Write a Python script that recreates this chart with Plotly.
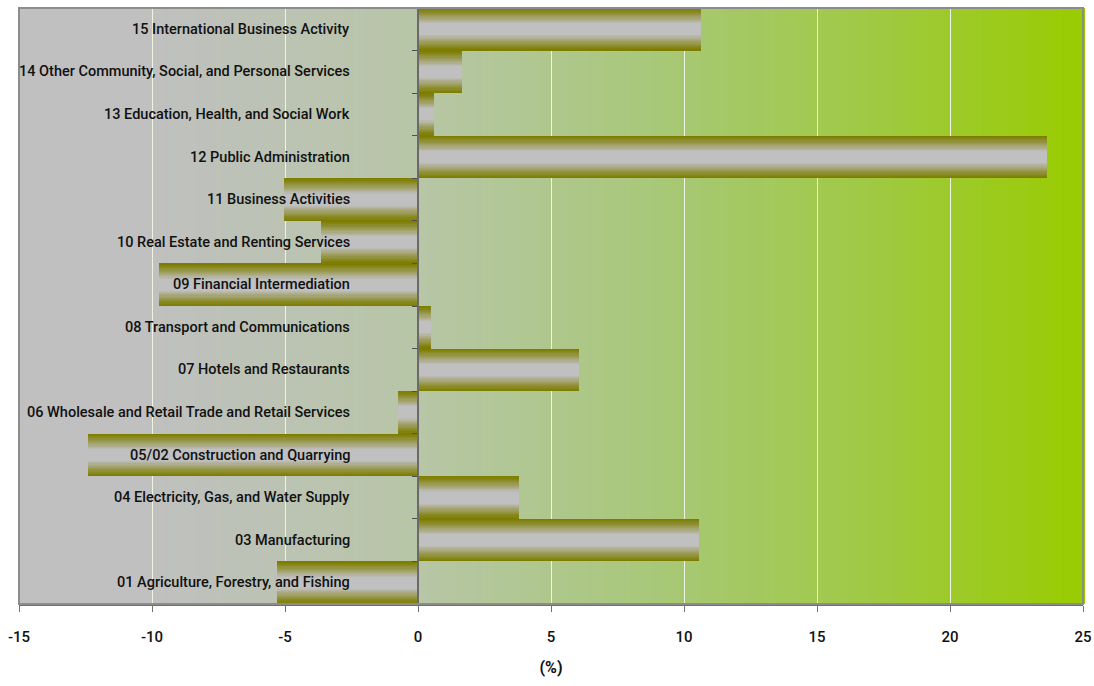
import plotly.graph_objects as go

# Sector growth rates (%), listed bottom to top
sectors = [
    "01 Agriculture, Forestry, and Fishing",
    "03 Manufacturing",
    "04 Electricity, Gas, and Water Supply",
    "05/02 Construction and Quarrying",
    "06 Wholesale and Retail Trade and Retail Services",
    "07 Hotels and Restaurants",
    "08 Transport and Communications",
    "09 Financial Intermediation",
    "10 Real Estate and Renting Services",
    "11 Business Activities",
    "12 Public Administration",
    "13 Education, Health, and Social Work",
    "14 Other Community, Social, and Personal Services",
    "15 International Business Activity",
]
growth = [-5.3, 10.55, 3.8, -12.4, -0.75, 6.05, 0.5, -9.75, -3.65, -5.05, 23.65, 0.6, 1.65, 10.65]

x_ticks = [-15, -10, -5, 0, 5, 10, 15, 20, 25]
x_min, x_max = -15, 25

FONT = "Roboto, sans-serif"


def hex_to_rgb(h):
    h = h.lstrip("#")
    return tuple(int(h[i:i + 2], 16) for i in (0, 2, 4))


def mix(c0, c1, t):
    a, b = hex_to_rgb(c0), hex_to_rgb(c1)
    return "rgb(%d,%d,%d)" % tuple(round(a[i] + (b[i] - a[i]) * t) for i in range(3))


def ramp(stops, t):
    for (p0, c0), (p1, c1) in zip(stops, stops[1:]):
        if p0 <= t <= p1:
            return mix(c0, c1, (t - p0) / (p1 - p0) if p1 > p0 else 0)
    return mix(stops[-1][1], stops[-1][1], 0)


fig = go.Figure()
ypos = list(range(len(sectors)))

# Cylinder-style bars: stacked overlay layers fading from olive edges to a silver core
n_layers = 14
core = 0.28
for k in range(n_layers):
    w = 1.0 - k * (1.0 - core) / (n_layers - 1)
    t = k / (n_layers - 1)
    color = mix("#7d7d00", "#c0c0c0", t ** 1.1)
    fig.add_trace(go.Bar(
        x=growth, y=ypos, orientation="h", width=w,
        marker=dict(color=color, line=dict(width=0)),
        hoverinfo="skip" if k < n_layers - 1 else "x+text",
        text=sectors if k == n_layers - 1 else None,
        textposition="none",
        showlegend=False,
    ))

# Horizontal background wash from silver to lime green
bg_stops = [(0.0, "#c0c0c0"), (0.12, "#c0c0c0"), (0.38, "#b7c6a6"),
            (0.6, "#a8c878"), (0.8, "#a0c944"), (1.0, "#99cc00")]
n_strips = 200
shapes = []
for i in range(n_strips):
    f0, f1 = i / n_strips, (i + 1) / n_strips
    shapes.append(dict(
        type="rect", xref="paper", yref="paper", x0=f0, x1=f1 + 0.002, y0=0, y1=1,
        fillcolor=ramp(bg_stops, (f0 + f1) / 2), line=dict(width=0), layer="below",
    ))
# Plot frame
shapes.append(dict(type="rect", xref="paper", yref="paper", x0=0, x1=1, y0=0, y1=1,
                   line=dict(color="#8c8c8c", width=2), layer="above"))

annotations = [
    dict(x=-2.5, y=i, xref="x", yref="y", text=s, showarrow=False,
         xanchor="right", yanchor="middle",
         font=dict(family=FONT, size=14.5, color="#111111", weight=500))
    for i, s in enumerate(sectors)
]

fig.update_layout(
    width=1094, height=686,
    margin=dict(l=19, r=11, t=8, b=82),
    paper_bgcolor="white", plot_bgcolor="#c0c0c0",
    barmode="overlay", bargap=0,
    shapes=shapes, annotations=annotations,
    font=dict(family=FONT, color="#111111"),
    xaxis=dict(
        range=[x_min, x_max], tickvals=x_ticks, ticktext=[str(v) for v in x_ticks],
        showgrid=True, gridcolor="#eef3e2", gridwidth=1, zeroline=False,
        showline=True, linecolor="#707070", linewidth=2,
        ticks="outside", ticklen=6, tickcolor="#707070",
        ticklabelstandoff=12, automargin=False,
        tickfont=dict(family=FONT, size=15, color="#111111", weight=500),
        title=dict(text="<b>(%)</b>", standoff=17,
                   font=dict(family=FONT, size=16, color="#111111")),
        fixedrange=True,
    ),
    yaxis=dict(
        range=[-0.5, len(sectors) - 0.5],
        tickvals=[i - 0.5 for i in range(len(sectors) + 1)],
        showticklabels=False, showgrid=False, zeroline=False,
        ticks="outside", ticklen=5, tickcolor="#505050",
        showline=True, linecolor="#6a6a6a", linewidth=2,
        anchor="free", position=(0 - x_min) / (x_max - x_min),
        automargin=False, fixedrange=True,
    ),
)

fig.write_html("out.html")
